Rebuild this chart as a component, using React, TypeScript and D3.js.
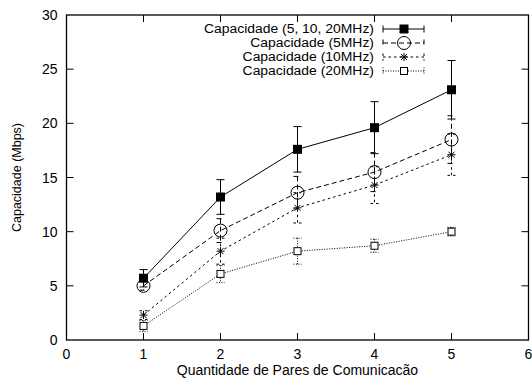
import { useEffect, useRef } from 'react';
import * as d3 from 'd3';

const pairs = [1, 2, 3, 4, 5];

const capAll = [5.7, 13.2, 17.6, 19.6, 23.1];
const capAllErr = [0.8, 1.6, 2.1, 2.4, 2.7];

const cap5 = [5.0, 10.1, 13.6, 15.5, 18.5];
const cap5Err = [0.4, 1.1, 1.5, 1.8, 2.2];

const cap10 = [2.3, 8.2, 12.2, 14.3, 17.1];
const cap10Err = [0.4, 1.2, 1.4, 1.7, 1.9];

const cap20 = [1.3, 6.1, 8.2, 8.7, 10.0];
const cap20Err = [0.5, 0.8, 1.2, 0.6, 0.4];

const xTicks = [0, 1, 2, 3, 4, 5, 6];
const yTicks = [0, 5, 10, 15, 20, 25, 30];

const seriesNames = [
  'Capacidade (5, 10, 20MHz)',
  'Capacidade (5MHz)',
  'Capacidade (10MHz)',
  'Capacidade (20MHz)',
];

type Marker = 'filledSquare' | 'circle' | 'star' | 'openSquare';

const App = () => {
  const svgRef = useRef<SVGSVGElement>(null);

  useEffect(() => {
    if (!svgRef.current) return;
    const width = 532;
    const height = 380;
    const svg = d3.select(svgRef.current);
    svg.selectAll('*').remove();

    const margin = { top: 15, right: 3.5, bottom: 40, left: 66.5 };
    const x = d3.scaleLinear().domain([0, 6]).range([margin.left, width - margin.right]);
    const y = d3.scaleLinear().domain([0, 30]).range([height - margin.bottom, margin.top]);
    const font = 'Liberation Sans, Arial, Helvetica, sans-serif';
    const fs = 14;

    const series = [
      { name: seriesNames[0], vals: capAll, err: capAllErr, dash: null, marker: 'filledSquare' as Marker },
      { name: seriesNames[1], vals: cap5, err: cap5Err, dash: '5,3', marker: 'circle' as Marker },
      { name: seriesNames[2], vals: cap10, err: cap10Err, dash: '2.5,3', marker: 'star' as Marker },
      { name: seriesNames[3], vals: cap20, err: cap20Err, dash: '1,1.5', marker: 'openSquare' as Marker },
    ];

    const drawMarker = (g: d3.Selection<SVGGElement, unknown, null, undefined>, m: Marker, cx: number, cy: number) => {
      if (m === 'filledSquare') {
        g.append('rect').attr('x', cx - 4.5).attr('y', cy - 4.5).attr('width', 9).attr('height', 9).attr('fill', '#000');
      } else if (m === 'circle') {
        g.append('circle').attr('cx', cx).attr('cy', cy).attr('r', 6.5)
          .attr('fill', 'none').attr('stroke', '#000').attr('stroke-width', 1);
      } else if (m === 'star') {
        const r = 4;
        const p = d3.path();
        p.moveTo(cx - r, cy); p.lineTo(cx + r, cy);
        p.moveTo(cx, cy - r); p.lineTo(cx, cy + r);
        p.moveTo(cx - r * 0.75, cy - r * 0.75); p.lineTo(cx + r * 0.75, cy + r * 0.75);
        p.moveTo(cx - r * 0.75, cy + r * 0.75); p.lineTo(cx + r * 0.75, cy - r * 0.75);
        g.append('path').attr('d', p.toString()).attr('stroke', '#000').attr('stroke-width', 1).attr('fill', 'none');
      } else {
        g.append('rect').attr('x', cx - 3.5).attr('y', cy - 3.5).attr('width', 7).attr('height', 7)
          .attr('fill', '#fff').attr('stroke', '#000').attr('stroke-width', 1);
      }
    };

    // Frame
    svg.append('rect')
      .attr('x', x(0)).attr('y', y(30))
      .attr('width', x(6) - x(0)).attr('height', y(0) - y(30))
      .attr('fill', 'none').attr('stroke', '#000').attr('stroke-width', 1.3);

    // Ticks (inward, mirrored)
    const tickLen = 7;
    xTicks.slice(1, -1).forEach(t => {
      svg.append('line').attr('x1', x(t)).attr('x2', x(t)).attr('y1', y(0)).attr('y2', y(0) - tickLen).attr('stroke', '#000');
      svg.append('line').attr('x1', x(t)).attr('x2', x(t)).attr('y1', y(30)).attr('y2', y(30) + tickLen).attr('stroke', '#000');
    });
    yTicks.slice(1, -1).forEach(t => {
      svg.append('line').attr('x1', x(0)).attr('x2', x(0) + tickLen).attr('y1', y(t)).attr('y2', y(t)).attr('stroke', '#000');
      svg.append('line').attr('x1', x(6)).attr('x2', x(6) - tickLen).attr('y1', y(t)).attr('y2', y(t)).attr('stroke', '#000');
    });

    // Tick labels
    xTicks.forEach(t => {
      svg.append('text').attr('x', x(t)).attr('y', y(0) + 19)
        .attr('text-anchor', 'middle').attr('font-family', font).attr('font-size', fs).text(t);
    });
    yTicks.forEach(t => {
      svg.append('text').attr('x', x(0) - 9).attr('y', y(t) + 5)
        .attr('text-anchor', 'end').attr('font-family', font).attr('font-size', fs).text(t);
    });

    // Axis titles
    svg.append('text').attr('x', x(3)).attr('y', 375)
      .attr('text-anchor', 'middle').attr('font-family', font).attr('font-size', fs)
      .text('Quantidade de Pares de Comunicacão');
    svg.append('text')
      .attr('transform', `translate(21,${(y(0) + y(30)) / 2}) rotate(-90)`)
      .attr('text-anchor', 'middle').attr('font-family', font).attr('font-size', 12.5)
      .text('Capacidade (Mbps)');

    // Series
    const line = d3.line<number>().x((_, i) => x(pairs[i])).y(d => y(d));
    series.forEach(s => {
      const g = svg.append('g');
      g.append('path').attr('d', line(s.vals)).attr('fill', 'none').attr('stroke', '#000')
        .attr('stroke-width', 1).attr('stroke-dasharray', s.dash);
      s.vals.forEach((v, i) => {
        const cx = x(pairs[i]);
        const top = y(v + s.err[i]);
        const bot = y(v - s.err[i]);
        g.append('line').attr('x1', cx).attr('x2', cx).attr('y1', top).attr('y2', bot)
          .attr('stroke', '#000').attr('stroke-dasharray', s.dash);
        [top, bot].forEach(yy => {
          g.append('line').attr('x1', cx - 4).attr('x2', cx + 4).attr('y1', yy).attr('y2', yy)
            .attr('stroke', '#000').attr('stroke-dasharray', s.dash);
        });
      });
      s.vals.forEach((v, i) => drawMarker(g, s.marker, x(pairs[i]), y(v)));
    });

    // Legend (text slightly stretched horizontally so rows stay within 14px)
    series.forEach((s, i) => {
      const ly = 29 + i * 14;
      const g = svg.append('g');
      g.append('text')
        .attr('transform', `translate(374,${ly + 4.3}) scale(1.16,1)`)
        .attr('text-anchor', 'end').attr('font-family', font).attr('font-size', 12).text(s.name);
      g.append('line').attr('x1', 383).attr('x2', 424).attr('y1', ly).attr('y2', ly)
        .attr('stroke', '#000').attr('stroke-dasharray', s.dash);
      [383, 424].forEach(xx => {
        g.append('line').attr('x1', xx).attr('x2', xx).attr('y1', ly - 3.5).attr('y2', ly + 3.5)
          .attr('stroke', '#000').attr('stroke-dasharray', s.dash);
      });
      drawMarker(g, s.marker, 404, ly);
    });
  }, []);

  return (
    <svg
      ref={svgRef}
      width={532}
      height={380}
      style={{ position: 'absolute', left: 0, top: 0, background: '#fff' }}
    />
  );
};

export default App;
